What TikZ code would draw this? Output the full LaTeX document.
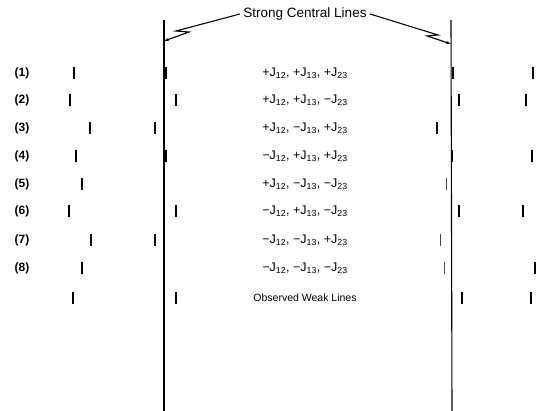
\documentclass[tikz,border=0pt]{standalone}
\usepackage{fontspec}
\setmainfont{Liberation Sans}
\usetikzlibrary{arrows.meta}

\begin{document}
\begin{tikzpicture}[x=1pt,y=1pt,
    rowlbl/.style={font=\fontsize{12}{14}\selectfont\bfseries},
    cpl/.style={font=\fontsize{12.5}{14}\selectfont},
    wk/.style={line width=1.7pt},
    wkthin/.style={line width=0.8pt,black!70},
    leader/.style={line width=1.1pt,-{Stealth[length=5pt,width=3pt]}}]
  \useasboundingbox (0,0) rectangle (538,-411);

  % strong central lines
  \coordinate (ltop) at (164,-20);
  \coordinate (lbot) at (164,-411);
  \coordinate (rtop) at (451,-20);
  \coordinate (rbot) at (452,-411);
  \draw[line width=1.1pt] (ltop) -- (lbot);
  \draw[line width=1.1pt] (rtop) -- (rbot);
  \node[font=\fontsize{13.5}{15}\selectfont] (strong) at (305,-14) {Strong Central Lines};
  \coordinate (la) at (164,-41);
  \coordinate (ra) at (451,-44);
  \draw[leader] (strong.west) -- (176,-31) -- (189,-32) -- (la);
  \draw[leader] (strong.east) -- (438,-35) -- (427,-36) -- (ra);

  % row labels
  \node[rowlbl] (r1) at (22,-73) {(1)};
  \node[rowlbl] (r2) at (22,-100) {(2)};
  \node[rowlbl] (r3) at (22,-128) {(3)};
  \node[rowlbl] (r4) at (22,-156) {(4)};
  \node[rowlbl] (r5) at (22,-184) {(5)};
  \node[rowlbl] (r6) at (22,-211) {(6)};
  \node[rowlbl] (r7) at (22,-240) {(7)};
  \node[rowlbl] (r8) at (22,-268) {(8)};

  % coupling signs
  \node[cpl] (c1) at (305,-73) {+J\textsubscript{12}, +J\textsubscript{13}, +J\textsubscript{23}};
  \node[cpl] (c2) at (305,-100) {+J\textsubscript{12}, +J\textsubscript{13}, −J\textsubscript{23}};
  \node[cpl] (c3) at (305,-128) {+J\textsubscript{12}, −J\textsubscript{13}, +J\textsubscript{23}};
  \node[cpl] (c4) at (305,-156) {−J\textsubscript{12}, +J\textsubscript{13}, +J\textsubscript{23}};
  \node[cpl] (c5) at (305,-184) {+J\textsubscript{12}, −J\textsubscript{13}, −J\textsubscript{23}};
  \node[cpl] (c6) at (305,-211) {−J\textsubscript{12}, +J\textsubscript{13}, −J\textsubscript{23}};
  \node[cpl] (c7) at (305,-240) {−J\textsubscript{12}, −J\textsubscript{13}, +J\textsubscript{23}};
  \node[cpl] (c8) at (305,-268) {−J\textsubscript{12}, −J\textsubscript{13}, −J\textsubscript{23}};
  \node[font=\fontsize{10.5}{12}\selectfont] (obs) at (305,-298) {Observed Weak Lines};

  % weak lines, row by row
  \draw[wk] (74,-67) -- (74,-79);   \draw[wk] (166,-67) -- (166,-79);
  \draw[wk] (453,-67) -- (453,-79); \draw[wk] (533,-67) -- (533,-79);
  \draw[wk] (70,-94) -- (70,-106);  \draw[wk] (176,-94) -- (176,-106);
  \draw[wk] (459,-94) -- (459,-106); \draw[wk] (526,-94) -- (526,-106);
  \draw[wk] (90,-122) -- (90,-134); \draw[wk] (155,-122) -- (155,-134);
  \draw[wk] (437,-122) -- (437,-134);
  \draw[wk] (76,-150) -- (76,-162); \draw[wk] (166,-150) -- (166,-162);
  \draw[wk] (452,-150) -- (452,-162); \draw[wk] (532,-150) -- (532,-162);
  \draw[wk] (82,-178) -- (82,-190); \draw[wk,line width=2.2pt] (164,-178) -- (164,-190);
  \draw[wkthin] (446,-178) -- (446,-190);
  \draw[wk] (69,-205) -- (69,-217); \draw[wk] (176,-205) -- (176,-217);
  \draw[wk] (459,-205) -- (459,-217); \draw[wk] (523,-205) -- (523,-217);
  \draw[wk] (91,-234) -- (91,-246); \draw[wk] (155,-234) -- (155,-246);
  \draw[wkthin] (440,-234) -- (440,-246);
  \draw[wk] (82,-262) -- (82,-274); \draw[wk,line width=2.2pt] (164,-262) -- (164,-274);
  \draw[wkthin] (444,-262) -- (444,-274); \draw[wk] (535,-262) -- (535,-274);
  \draw[wk] (73,-292) -- (73,-304); \draw[wk] (176,-292) -- (176,-304);
  \draw[wk] (462,-292) -- (462,-304); \draw[wk] (531,-292) -- (531,-304);
\end{tikzpicture}
\end{document}
